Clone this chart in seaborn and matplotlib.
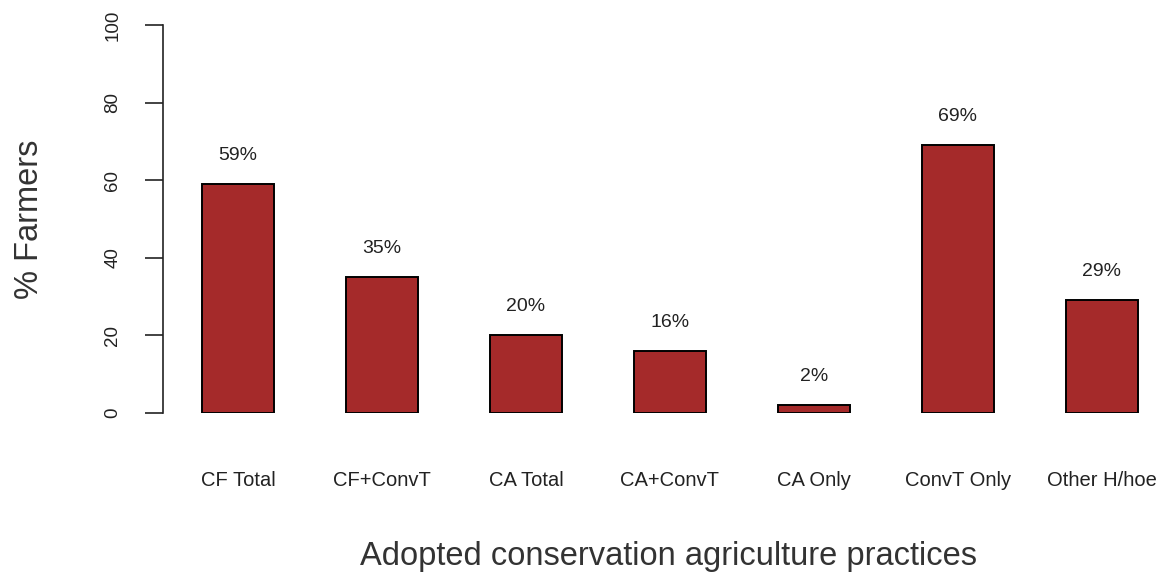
import matplotlib
matplotlib.use("Agg")
import matplotlib.pyplot as plt
import seaborn as sns
import pandas as pd

categories = ["CF Total", "CF+ConvT", "CA Total", "CA+ConvT", "CA Only", "ConvT Only", "Other H/hoe"]
values = [59, 35, 20, 16, 2, 69, 29]
yticks = [0, 20, 40, 60, 80, 100]

sns.set_theme(style="white")
plt.rcParams["font.family"] = ["Liberation Sans", "DejaVu Sans"]

df = pd.DataFrame({"practice": categories, "pct": values})

W, H = 1164, 577
fig = plt.figure(figsize=(W / 100, H / 100), dpi=100)
ax = fig.add_axes([163 / W, (H - 413) / H, 1001 / W, 388 / H])

sns.barplot(data=df, x="practice", y="pct", color="#A52A2A", saturation=1,
            edgecolor="black", linewidth=1.4, width=0.5, ax=ax)

for i, v in enumerate(values):
    ax.text(i, v + 7.4, f"{v}%", ha="center", va="center", fontsize=14, color="#222222")

ax.set_xlim(-0.521, 6.431)
ax.set_ylim(0, 100)
ax.set_yticks(yticks)
ax.set_yticklabels([str(t) for t in yticks], rotation=90, va="center", fontsize=13.5, color="#222222")
ax.tick_params(axis="y", length=13, width=1.2, color="#222222", pad=17, left=True)
ax.tick_params(axis="x", length=0, pad=42, labelsize=14.5, labelcolor="#222222")

for s in ["top", "right", "bottom"]:
    ax.spines[s].set_visible(False)
ax.spines["left"].set_color("#222222")
ax.spines["left"].set_linewidth(1.2)

ax.set_ylabel("% Farmers", fontsize=23.5, color="#333333", va="center")
ax.yaxis.set_label_coords((30 - 163) / 1001, 0.5)
ax.set_xlabel("Adopted conservation agriculture practices", fontsize=23.5, color="#333333", va="center")
ax.xaxis.set_label_coords((668 - 163) / 1001, (413 - 557) / 388)

fig.savefig("out.png", dpi=100)
